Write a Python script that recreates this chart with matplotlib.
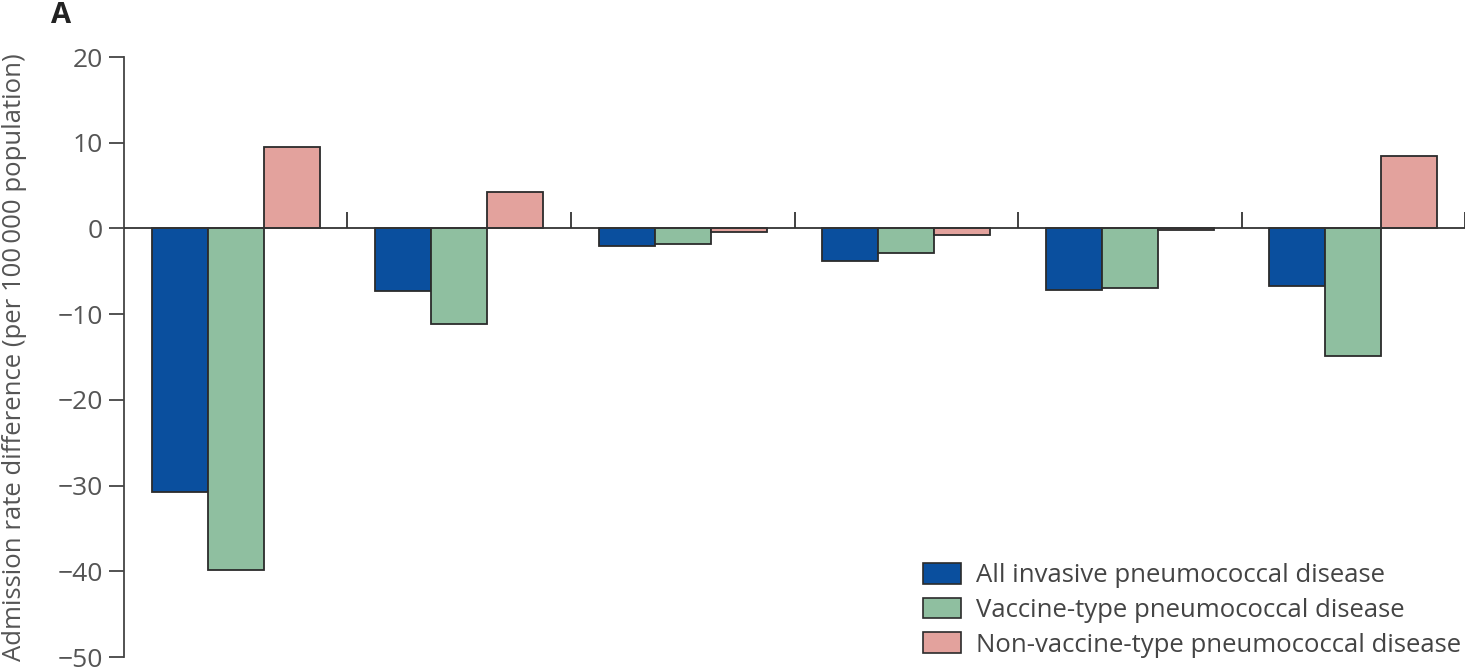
import numpy as np
import matplotlib.pyplot as plt
from matplotlib.patches import Patch

plt.rcParams['font.family'] = ['Open Sans', 'DejaVu Sans']

# ADMISSION RATE DIFFERENCES PER GROUP
all_ipd = [-30.7, -7.3, -2.0, -3.8, -7.2, -6.7]
vaccine_type = [-39.9, -11.2, -1.8, -2.9, -7.0, -14.9]
non_vaccine_type = [9.5, 4.2, -0.4, -0.8, -0.2, 8.5]

series_names = [
    "All invasive pneumococcal disease",
    "Vaccine-type pneumococcal disease",
    "Non-vaccine-type pneumococcal disease",
]
colors = ["#0a4f9e", "#8fbfa0", "#e3a29d"]
yticks = [-50, -40, -30, -20, -10, 0, 10, 20]

text_color = "#555555"
edge = "#2b2b2b"

fig = plt.figure(figsize=(14.69, 6.7), dpi=100)
ax = fig.add_axes([0.0844, 0.0194, 0.9129, 0.8955])

n = len(all_ipd)
x = np.arange(n) + 0.5
w = 0.25

for k, vals in enumerate([all_ipd, vaccine_type, non_vaccine_type]):
    ax.bar(x + (k - 1) * w, vals, width=w, color=colors[k],
           edgecolor=edge, linewidth=1.3, zorder=2)

# ZERO LINE WITH GROUP SEPARATOR TICKS
ax.axhline(0, color="#333333", linewidth=1.3, zorder=3)
ax.vlines(np.arange(1, n + 1), 0, 1.9, color="#333333", linewidth=1.3, zorder=3)

ax.set_xlim(0, n)
ax.set_ylim(-50, 20)
ax.set_yticks(yticks)
ax.set_yticklabels([str(t).replace("-", "\u2212") for t in yticks])
ax.set_xticks([])

for s in ["top", "right", "bottom"]:
    ax.spines[s].set_visible(False)
ax.spines["left"].set_color("#444444")
ax.spines["left"].set_linewidth(1.3)
ax.tick_params(axis="y", length=11, width=1.3, color="#444444",
               labelsize=19, labelcolor=text_color, pad=4)

ax.set_ylabel("Admission rate difference (per 100\u2009000 population)",
              fontsize=18.5, color=text_color)
ax.yaxis.set_label_coords(-0.072, 0.5)

fig.text(0.035, 0.998, "A", fontsize=21, fontweight="bold", color="#222222",
         va="top", ha="left")

handles = [Patch(facecolor=c, edgecolor=edge, linewidth=1.2) for c in colors]
ax.legend(handles, series_names, loc="lower right", frameon=False,
          fontsize=18.5, labelcolor="#444444", handlelength=1.48,
          handleheight=0.86, handletextpad=0.6, labelspacing=0.37,
          borderaxespad=0.0, bbox_to_anchor=(1.005, -0.018))

plt.savefig("out.png", dpi=100)
